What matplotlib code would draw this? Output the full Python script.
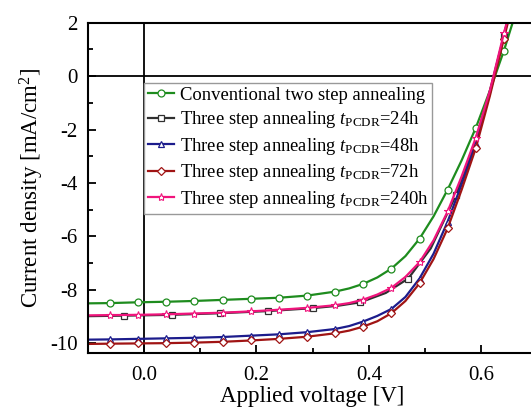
import matplotlib
matplotlib.use("Agg")
import matplotlib.pyplot as plt

# ── Data ─────────────────────────────────────────────────────────────────────
voltage = [-0.10, -0.06, -0.01, 0.04, 0.09, 0.14, 0.19, 0.24, 0.29, 0.34, 0.365,
           0.39, 0.415, 0.44, 0.465, 0.49, 0.515, 0.54, 0.565, 0.59, 0.615, 0.64, 0.66]
marker_idx = [1, 2, 3, 4, 5, 6, 7, 8, 9, 11, 13, 15, 17, 19, 21]

j_conventional = [-8.51, -8.50, -8.47, -8.45, -8.42, -8.38, -8.34, -8.30, -8.22, -8.07, -7.95,
                  -7.78, -7.54, -7.21, -6.74, -6.09, -5.25, -4.25, -3.15, -1.94, -0.55, 0.95, 2.3]
j_48h = [-9.87, -9.86, -9.84, -9.82, -9.80, -9.77, -9.72, -9.67, -9.59, -9.47, -9.36,
         -9.19, -8.98, -8.72, -8.27, -7.58, -6.65, -5.45, -4.05, -2.55, -0.65, 1.5, 3.3]
j_72h = [-10.03, -10.02, -10.01, -10.00, -9.98, -9.95, -9.90, -9.84, -9.76, -9.63, -9.53,
         -9.38, -9.18, -8.88, -8.42, -7.76, -6.85, -5.70, -4.25, -2.70, -0.75, 1.4, 3.1]
j_240h = [-8.96, -8.95, -8.94, -8.92, -8.89, -8.86, -8.81, -8.75, -8.68, -8.58, -8.50,
          -8.37, -8.18, -7.93, -7.52, -6.97, -6.15, -5.07, -3.75, -2.31, -0.55, 1.6, 3.2]

# 24h curve was sampled on a different voltage grid
voltage_24h = [-0.10, -0.035, 0.05, 0.135, 0.22, 0.30, 0.345, 0.385, 0.43, 0.47, 0.51,
               0.555, 0.60, 0.64, 0.66]
marker_idx_24h = [1, 2, 3, 4, 5, 7, 9, 11, 13]
j_24h = [-8.99, -8.97, -8.94, -8.88, -8.80, -8.69, -8.60, -8.47, -8.12, -7.58, -6.45,
         -4.45, -1.8, 1.5, 3.3]

labels = [
    "Conventional two step annealing",
    r"Three step annealing $t_{\mathrm{PCDR}}$=24h",
    r"Three step annealing $t_{\mathrm{PCDR}}$=48h",
    r"Three step annealing $t_{\mathrm{PCDR}}$=72h",
    r"Three step annealing $t_{\mathrm{PCDR}}$=240h",
]

# ── Style ────────────────────────────────────────────────────────────────────
plt.rcParams["font.family"] = ["Liberation Serif", "DejaVu Serif"]
plt.rcParams["mathtext.fontset"] = "custom"
plt.rcParams["mathtext.rm"] = "Liberation Serif"
plt.rcParams["mathtext.it"] = "Liberation Serif:italic"

fig = plt.figure(figsize=(5.31, 4.12), dpi=100)
ax = fig.add_axes([0.165, 0.1425, 0.8475, 0.8024])

common = dict(lw=1.6, ms=5, mfc="white", mew=0.9)
ax.plot(voltage, j_conventional, color="#1e8c1e", marker="o", markevery=marker_idx,
        label=labels[0], **common)
ax.plot(voltage_24h, j_24h, color="#303030", marker="s", markevery=marker_idx_24h,
        label=labels[1], **common)
ax.plot(voltage, j_48h, color="#1c1c8c", marker="^", markevery=marker_idx,
        label=labels[2], **common)
ax.plot(voltage, j_72h, color="#a01414", marker="D", markevery=marker_idx,
        label=labels[3], lw=1.6, ms=4.5, mfc="white", mew=0.9)
ax.plot(voltage, j_240h, color="#f0147c", marker="*", markevery=marker_idx,
        label=labels[4], lw=1.6, ms=6, mfc="white", mew=0.8)

ax.axhline(0, color="black", lw=1.3, zorder=1)
ax.axvline(0, color="black", lw=1.3, zorder=1)

ax.set_xlim(-0.1, 0.7)
ax.set_ylim(-10.38, 2)
ax.set_xticks([0.0, 0.2, 0.4, 0.6])
ax.set_xticks([0.1, 0.3, 0.5], minor=True)
ax.set_yticks([-10, -8, -6, -4, -2, 0, 2])
ax.set_yticks([-9, -7, -5, -3, -1, 1], minor=True)
ax.set_yticklabels(["-10", "-8", "-6", "-4", "-2", "0", "2"])
ax.tick_params(which="both", direction="in", top=False, right=False, labelsize=15, width=1.3)
ax.tick_params(which="major", length=6)
ax.tick_params(which="minor", length=3.5)
ax.tick_params(axis="x", which="major", pad=9)
ax.tick_params(axis="y", which="major", pad=7)
for s in ax.spines.values():
    s.set_linewidth(1.5)

ax.set_xlabel("Applied voltage [V]", fontsize=16.5, labelpad=1)
ax.set_ylabel(r"Current density [mA/cm$^2$]", fontsize=16.5, labelpad=3)

leg = ax.legend(loc="upper left", bbox_to_anchor=(0.126, 0.818), fontsize=13.4,
                frameon=True, fancybox=False, edgecolor="#999999", framealpha=1,
                handlelength=1.4, handletextpad=0.3, borderpad=0.2, labelspacing=0.3,
                borderaxespad=0)
leg.get_frame().set_linewidth(1.0)

fig.savefig("out.png", dpi=100)
